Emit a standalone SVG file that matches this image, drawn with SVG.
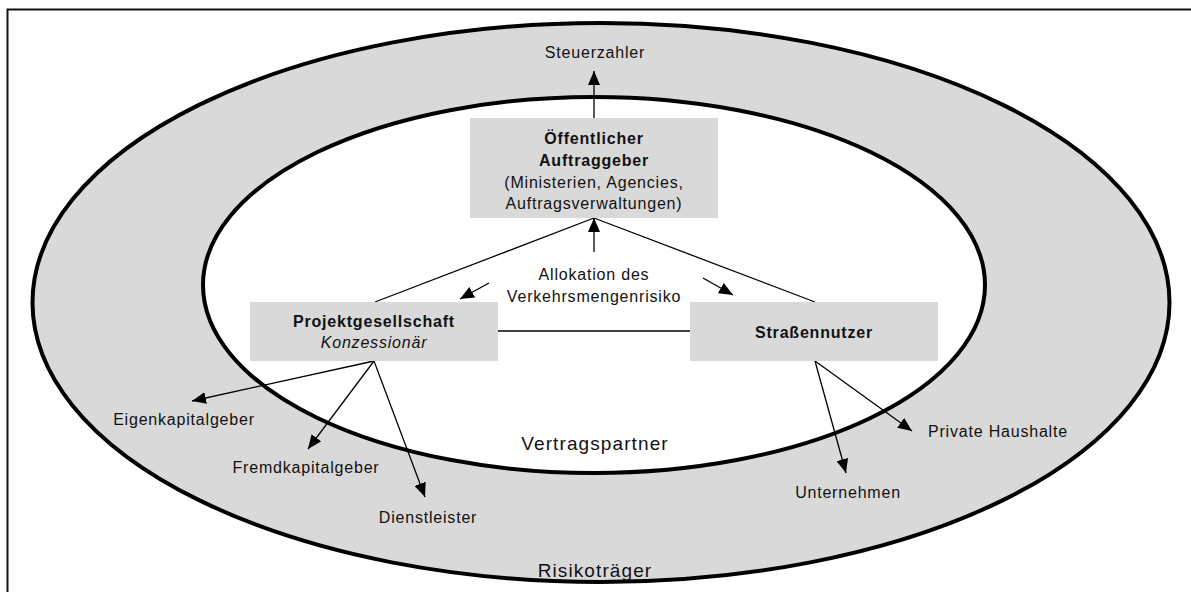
<svg xmlns="http://www.w3.org/2000/svg" width="1191" height="592" viewBox="0 0 1191 592">
<style>
text{font-family:"Liberation Sans",Arial,sans-serif;font-size:16px;fill:#111;letter-spacing:0.8px}
.b{font-weight:bold}
.i{font-style:italic}
.big{font-size:19px;letter-spacing:1.1px}
.m{text-anchor:middle}
.box{fill:#d9d9d9;stroke:none}
.ln{stroke:#000;stroke-width:1.3;fill:none}
.ar{marker-end:url(#ah)}
</style>
<defs>
<marker id="ah" markerUnits="userSpaceOnUse" viewBox="0 0 14 12" refX="14" refY="6" markerWidth="14" markerHeight="12" orient="auto">
<path d="M0,0 L14,6 L0,12 z" fill="#000"/>
</marker>
</defs>
<rect width="1191" height="592" fill="#fff"/>
<path d="M7.5,592 V9.5 H1191" fill="none" stroke="#111" stroke-width="2"/>
<g id="ring">
<ellipse cx="601" cy="302.5" rx="568.5" ry="279.5" fill="#d9d9d9" stroke="#000" stroke-width="4"/>
<ellipse cx="594" cy="285" rx="391" ry="188" fill="#fff" stroke="#000" stroke-width="4"/>
</g>
<g id="connectors">
<line class="ln ar" x1="594" y1="118" x2="594" y2="71"/>
<line class="ln ar" x1="594" y1="252" x2="594" y2="218"/>
<line class="ln" x1="375" y1="302" x2="594" y2="218"/>
<line class="ln" x1="815" y1="302" x2="594" y2="218"/>
<line class="ln" x1="498" y1="331" x2="690" y2="331"/>
<line class="ln ar" x1="489" y1="283" x2="460" y2="299"/>
<line class="ln ar" x1="703" y1="278" x2="733" y2="295"/>
<line class="ln ar" x1="374" y1="361" x2="192" y2="401"/>
<line class="ln ar" x1="374" y1="361" x2="308" y2="449"/>
<line class="ln ar" x1="374" y1="361" x2="425" y2="497"/>
<line class="ln ar" x1="815" y1="361" x2="912" y2="431"/>
<line class="ln ar" x1="815" y1="361" x2="846" y2="473"/>
</g>
<g id="auftraggeber">
<rect class="box" x="470" y="118" width="248" height="100"/>
<text class="b m" x="594" y="144">Öffentlicher</text>
<text class="b m" x="594" y="166">Auftraggeber</text>
<text class="m" x="594" y="188">(Ministerien, Agencies,</text>
<text class="m" x="594" y="209">Auftragsverwaltungen)</text>
</g>
<g id="projektgesellschaft">
<rect class="box" x="250" y="302" width="248" height="59"/>
<text class="b m" x="374" y="327">Projektgesellschaft</text>
<text class="i m" x="374" y="348">Konzessionär</text>
</g>
<g id="strassennutzer">
<rect class="box" x="690" y="302" width="248" height="59"/>
<text class="b m" x="814" y="338">Straßennutzer</text>
</g>
<g id="steuerzahler"><text class="m" x="595" y="58">Steuerzahler</text></g>
<g id="allokation">
<text class="m" x="594" y="280">Allokation des</text>
<text class="m" x="594" y="302">Verkehrsmengenrisiko</text>
</g>
<g id="eigenkapitalgeber"><text class="m" x="184" y="425">Eigenkapitalgeber</text></g>
<g id="fremdkapitalgeber"><text class="m" x="306" y="473">Fremdkapitalgeber</text></g>
<g id="dienstleister"><text class="m" x="428" y="523">Dienstleister</text></g>
<g id="haushalte"><text x="928" y="437">Private Haushalte</text></g>
<g id="unternehmen"><text class="m" x="848" y="498">Unternehmen</text></g>
<g id="labels">
<text class="big m" x="595" y="450">Vertragspartner</text>
<text class="big m" x="595" y="577">Risikoträger</text>
</g>
</svg>
